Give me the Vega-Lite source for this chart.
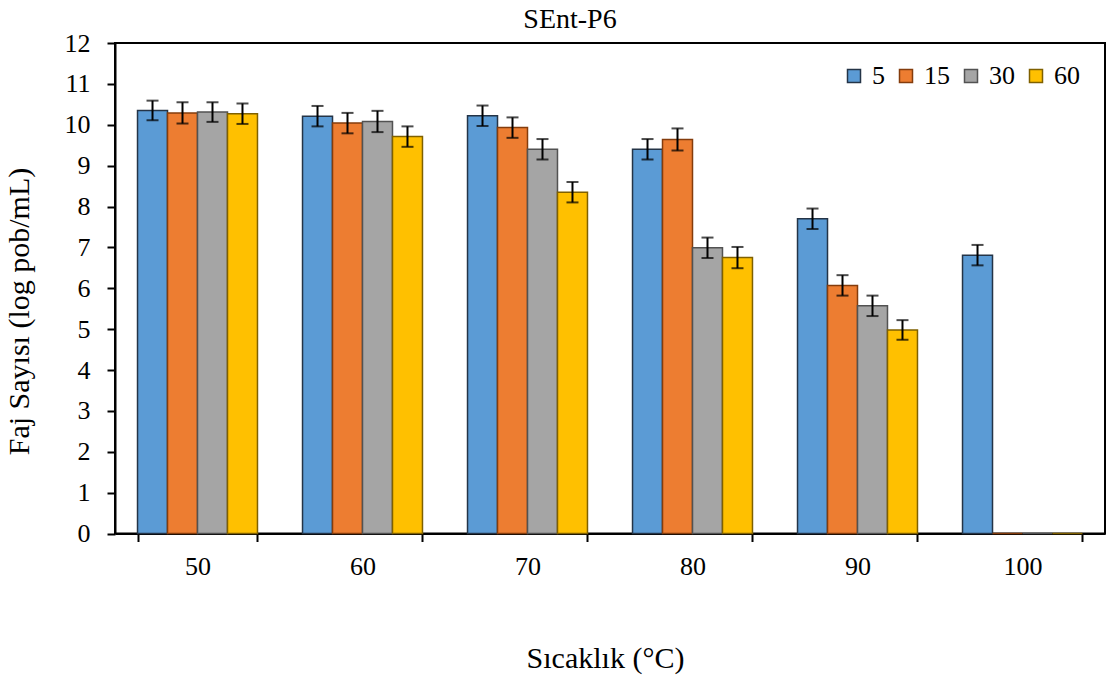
{
  "$schema": "https://vega.github.io/schema/vega-lite/v6.json",
  "autosize": {"type": "none"},
  "padding": {"left": 115, "top": 43, "right": 3, "bottom": 143},
  "width": 990,
  "height": 490.5,
  "title": {
    "text": "SEnt-P6",
    "font": "Liberation Serif",
    "fontSize": 28,
    "fontWeight": "normal",
    "color": "#000000",
    "offset": -4,
    "dx": -40
  },
  "config": {
    "view": {"stroke": "#000000", "strokeWidth": 2},
    "axis": {
      "labelFont": "Liberation Serif",
      "titleFont": "Liberation Serif",
      "labelFontSize": 26,
      "titleFontSize": 30,
      "titleFontWeight": "normal",
      "labelColor": "#000000",
      "titleColor": "#000000",
      "domainColor": "#000000",
      "domainWidth": 2,
      "tickColor": "#000000",
      "tickWidth": 2,
      "tickSize": 8,
      "grid": false
    }
  },
  "data": {
    "values": [
      {"temp": "50", "time": "5", "value": 10.35, "err": 0.24},
      {"temp": "50", "time": "15", "value": 10.29, "err": 0.26},
      {"temp": "50", "time": "30", "value": 10.31, "err": 0.24},
      {"temp": "50", "time": "60", "value": 10.27, "err": 0.25},
      {"temp": "60", "time": "5", "value": 10.21, "err": 0.25},
      {"temp": "60", "time": "15", "value": 10.04, "err": 0.25},
      {"temp": "60", "time": "30", "value": 10.08, "err": 0.26},
      {"temp": "60", "time": "60", "value": 9.71, "err": 0.25},
      {"temp": "70", "time": "5", "value": 10.22, "err": 0.25},
      {"temp": "70", "time": "15", "value": 9.93, "err": 0.25},
      {"temp": "70", "time": "30", "value": 9.4, "err": 0.25},
      {"temp": "70", "time": "60", "value": 8.35, "err": 0.25},
      {"temp": "80", "time": "5", "value": 9.4, "err": 0.25},
      {"temp": "80", "time": "15", "value": 9.64, "err": 0.27},
      {"temp": "80", "time": "30", "value": 6.99, "err": 0.25},
      {"temp": "80", "time": "60", "value": 6.75, "err": 0.26},
      {"temp": "90", "time": "5", "value": 7.7, "err": 0.25},
      {"temp": "90", "time": "15", "value": 6.07, "err": 0.25},
      {"temp": "90", "time": "30", "value": 5.57, "err": 0.25},
      {"temp": "90", "time": "60", "value": 4.98, "err": 0.24},
      {"temp": "100", "time": "5", "value": 6.81, "err": 0.25},
      {"temp": "100", "time": "15", "value": 0, "err": 0},
      {"temp": "100", "time": "30", "value": 0, "err": 0},
      {"temp": "100", "time": "60", "value": 0, "err": 0}
    ]
  },
  "encoding": {
    "x": {
      "field": "temp",
      "type": "nominal",
      "scale": {"domain": ["50", "60", "70", "80", "90", "100"], "paddingInner": 0.273, "paddingOuter": 0.1365},
      "axis": {
        "title": "Sıcaklık (°C)",
        "labelAngle": 0,
        "tickBand": "extent",
        "labelPadding": 12,
        "titlePadding": 64,
        "titleX": 490
      }
    },
    "xOffset": {
      "field": "time",
      "type": "nominal",
      "scale": {"domain": ["5", "15", "30", "60"], "paddingInner": 0, "paddingOuter": 0}
    },
    "y": {
      "field": "value",
      "type": "quantitative",
      "scale": {"domain": [0, 12], "nice": false},
      "axis": {
        "title": "Faj Sayısı (log pob/mL)",
        "values": [0, 1, 2, 3, 4, 5, 6, 7, 8, 9, 10, 11, 12],
        "labelPadding": 17,
        "titlePadding": 30,
        "titleY": 268
      }
    }
  },
  "layer": [
    {
      "mark": {"type": "bar", "strokeWidth": 1.5},
      "encoding": {
        "fill": {
          "field": "time",
          "type": "nominal",
          "scale": {"domain": ["5", "15", "30", "60"], "range": ["#5B9BD5", "#ED7D31", "#A5A5A5", "#FFC000"]},
          "legend": {
            "title": null,
            "orient": "none",
            "direction": "horizontal",
            "legendX": 726,
            "legendY": 20,
            "symbolType": "square",
            "symbolSize": 169,
            "symbolStrokeWidth": 1.5,
            "labelFont": "Liberation Serif",
            "labelFontSize": 26,
            "labelColor": "#000000",
            "labelOffset": 5,
            "columnPadding": 8
          }
        },
        "stroke": {
          "field": "time",
          "type": "nominal",
          "scale": {"domain": ["5", "15", "30", "60"], "range": ["#243447", "#843C0C", "#525252", "#7F6000"]},
          "legend": null
        }
      }
    },
    {
      "transform": [{"filter": "datum.err > 0"}],
      "mark": {
        "type": "errorbar",
        "color": "#000000",
        "rule": {"strokeWidth": 2},
        "ticks": {"size": 12, "thickness": 2, "color": "#000000"}
      },
      "encoding": {
        "yError": {"field": "err"}
      }
    }
  ]
}
